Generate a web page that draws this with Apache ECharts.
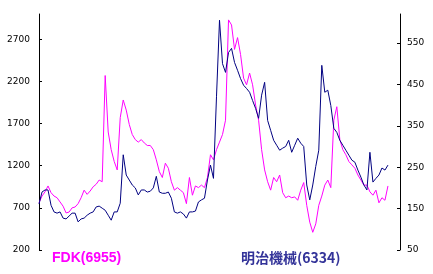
<!DOCTYPE html>
<html>
<head>
<meta charset="utf-8">
<script src="https://cdn.jsdelivr.net/npm/echarts@6/dist/echarts.min.js"></script>
<style>
html,body{margin:0;padding:0;background:#fff;}
#c{width:433px;height:274px;}
</style>
</head>
<body>
<div id="c"></div>
<script>
// sampling periods (121 slots, the last ones empty)
var periods = [];
for (var k = 1; k <= 121; k++) periods.push('P' + k);

var fdkName = 'FDK(6955)';
var meijiName = '明治機械(6334)';

var fdk = [760,840,890,960,880,840,820,770,720,640,650,700,710,750,820,910,860,900,950,980,
1030,1010,2270,1600,1390,1250,1150,1770,1980,1860,1690,1570,1510,1480,1510,1470,1440,1440,1390,1270,
1130,1060,1230,1170,1010,910,940,910,880,750,1060,850,960,940,970,
940,1060,1330,1270,1390,1480,1570,1740,2930,2870,2580,2720,2520,2240,2160,2300,2160,1920,1740,1390,
1150,1010,910,1060,1010,1090,880,820,840,820,830,790,910,1000,730,530,410,510,730,840,
970,1030,940,1740,1900,1510,1390,1330,1250,1210,1170,1090,1030,970,970,890,850,910,760,820,790,960];

var meiji = [161,190,195,195,158,142,139,142,127,125,132,139,139,118,125,127,134,139,142,154,
156,151,146,134,122,142,142,163,280,231,219,207,200,183,195,195,190,192,200,228,
190,187,187,190,175,142,139,142,137,127,142,142,144,166,171,
175,219,255,223,420,605,500,479,527,537,503,484,464,448,440,431,411,392,368,424,
455,363,339,315,303,291,296,300,315,286,303,320,308,300,207,171,207,252,291,496,
431,436,399,344,334,315,303,291,279,267,262,243,226,207,195,286,214,223,231,248,243,255];

var leftTicks = [200,700,1200,1700,2200,2700];
var rightTicks = [50,150,250,350,450,550];

var chart = echarts.init(document.getElementById('c'), null, {renderer:'canvas'});
var plain = function (v) { return String(v); };
chart.setOption({
  animation:false,
  grid:{left:39, right:33, top:14, bottom:24},
  xAxis:{type:'category', data:periods, boundaryGap:false, show:false},
  yAxis:[
    {type:'value', min:200, max:3000, position:'left',
     splitLine:{show:false},
     axisLine:{show:true, lineStyle:{color:'#000', width:1}},
     axisTick:{show:true, inside:true, length:3, customValues:leftTicks, lineStyle:{color:'#000'}},
     axisLabel:{margin:9, customValues:leftTicks, formatter:plain, color:'#000', fontSize:9, fontFamily:'DejaVu Sans'}},
    {type:'value', min:50, max:620, position:'right',
     splitLine:{show:false},
     axisLine:{show:true, lineStyle:{color:'#000', width:1}},
     axisTick:{show:true, inside:true, length:3, customValues:rightTicks, lineStyle:{color:'#000'}},
     axisLabel:{margin:7, customValues:rightTicks, formatter:plain, color:'#000', fontSize:9, fontFamily:'DejaVu Sans'}}
  ],
  series:[
    {name:fdkName, type:'line', yAxisIndex:0, data:fdk, showSymbol:false,
     lineStyle:{color:'#ff00ff', width:1}, itemStyle:{color:'#ff00ff'}},
    {name:meijiName, type:'line', yAxisIndex:1, data:meiji, showSymbol:false,
     lineStyle:{color:'#000080', width:1}, itemStyle:{color:'#000080'}}
  ],
  graphic:[
    {type:'text', x:52, y:258, style:{text:fdkName, fill:'#ff00ff',
      font:'bold 14px "Liberation Sans", Arial, sans-serif', textVerticalAlign:'middle'}},
    {type:'text', x:241, y:258, style:{text:meijiName, fill:'#333399',
      font:'bold 14px "Noto Sans CJK JP", sans-serif', textVerticalAlign:'middle'}}
  ]
});
</script>
</body>
</html>
